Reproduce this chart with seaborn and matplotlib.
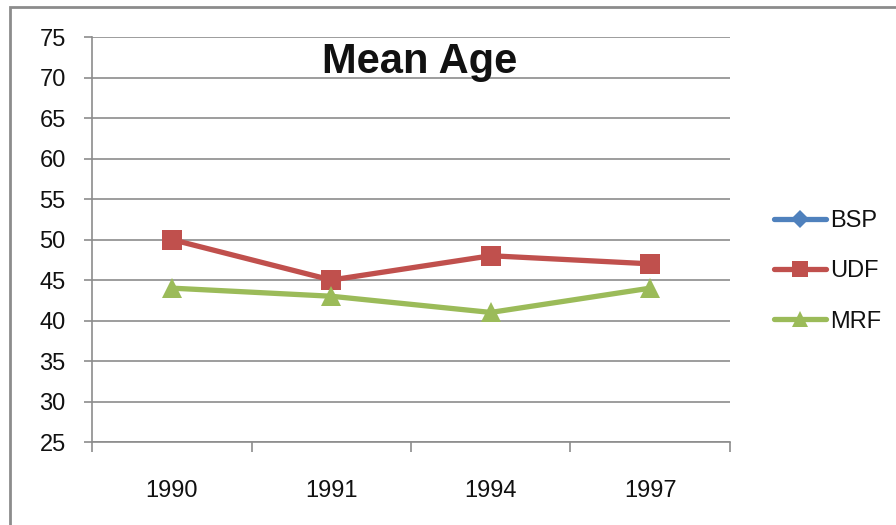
import matplotlib
matplotlib.use('Agg')
import matplotlib.pyplot as plt
import seaborn as sns
import pandas as pd
from matplotlib.patches import Rectangle
from matplotlib.ticker import FixedLocator

# data
years = ['1990', '1991', '1994', '1997']
bsp = [None, None, None, None]   # only in legend, no points shown
udf = [50, 45, 48, 47]
mrf = [44, 43, 41, 44]
series_names = ['BSP', 'UDF', 'MRF']
colors = {'BSP': '#4F81BD', 'UDF': '#C0504D', 'MRF': '#9BBB59'}
markers = {'BSP': 'D', 'UDF': 's', 'MRF': '^'}

sns.set_style('white')
plt.rcParams['font.family'] = ['Liberation Sans', 'DejaVu Sans']
plt.rcParams['text.color'] = '#111111'
plt.rcParams['xtick.labelcolor'] = '#111111'
plt.rcParams['ytick.labelcolor'] = '#111111'

df = pd.DataFrame({'year': years * 2,
                   'value': udf + mrf,
                   'party': ['UDF'] * 4 + ['MRF'] * 4})

fig = plt.figure(figsize=(8.96, 5.25), dpi=100)
ax = fig.add_axes([0.1027, 0.158, 0.712, 0.7715])

sns.lineplot(data=df, x='year', y='value', hue='party', style='party',
             palette=colors, markers=markers, dashes=False, linewidth=3.8,
             markersize=14, markeredgewidth=0, sort=False, ax=ax, legend=False)

ax.set_xlim(-0.5, 3.5)
ax.set_ylim(25, 75)
ax.set_yticks(range(25, 80, 5))
ax.yaxis.grid(True, color='#8c8c8c', linewidth=1.2)
ax.set_axisbelow(True)
ax.set_xlabel('')
ax.set_ylabel('')

for side in ['top', 'right']:
    ax.spines[side].set_visible(False)
for side in ['left', 'bottom']:
    ax.spines[side].set_color('#8c8c8c')
    ax.spines[side].set_linewidth(1.2)

ax.tick_params(axis='y', which='major', left=True, length=6, width=1.2,
               color='#8c8c8c', labelsize=17, pad=13)
ax.tick_params(axis='x', which='major', bottom=False, labelsize=17, pad=24)
ax.xaxis.set_minor_locator(FixedLocator([-0.5, 0.5, 1.5, 2.5, 3.5]))
ax.tick_params(axis='x', which='minor', bottom=True, length=7, width=1.2,
               color='#8c8c8c')

ax.text(0.514, 0.938, 'Mean Age', transform=ax.transAxes, ha='center',
        va='center', fontsize=30, fontweight='bold')

# legend
handles = [plt.Line2D([], [], color=colors[n], marker=markers[n],
                      markersize=11 if n != 'BSP' else 9, linewidth=3.8,
                      markeredgewidth=0) for n in series_names]
fig.legend(handles, series_names, loc='center left',
           bbox_to_anchor=(0.84, 0.483), frameon=False, fontsize=17,
           handlelength=2.2, handletextpad=0.2, labelspacing=1.2)

# outer chart frame
fig.patches.append(Rectangle((10 / 896, -0.1), 1.2, 1.1 - 7 / 525,
                             transform=fig.transFigure, fill=False,
                             edgecolor='#8c8c8c', linewidth=2))

fig.savefig('out.png', dpi=100)
